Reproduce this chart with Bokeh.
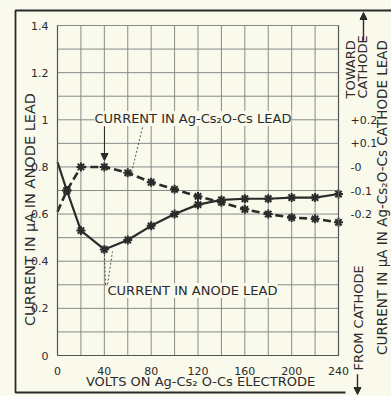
import math
from bokeh.plotting import figure
from bokeh.models import (Range1d, LinearAxis, FixedTicker, Label, Arrow, NormalHead)
from bokeh.embed import file_html
from bokeh.resources import INLINE

# ---- data ----
volts = [0, 8, 20, 40, 60, 80, 100, 120, 140, 160, 180, 200, 220, 240]
anode_current = [0.82, 0.70, 0.53, 0.45, 0.49, 0.55, 0.60, 0.64, 0.66, 0.665, 0.665, 0.67, 0.67, 0.685]
cathode_current = [-0.19, -0.10, 0.00, 0.00, -0.025, -0.065, -0.095, -0.125, -0.15, -0.18, -0.20, -0.215, -0.22, -0.235]
x_ticks = [0, 40, 80, 120, 160, 200, 240]
x_grid = [0, 20, 40, 60, 80, 100, 120, 140, 160, 180, 200, 220, 240]
y_ticks = [0, 0.2, 0.4, 0.6, 0.8, 1.0, 1.2, 1.4]
y_grid = [0, 0.1, 0.2, 0.3, 0.4, 0.5, 0.6, 0.7, 0.8, 0.9, 1.0, 1.1, 1.2, 1.3, 1.4]
right_ticks = [-0.2, -0.1, 0.0, 0.1, 0.2]
right_labels = ["-0.2", "-0.1", "-0", "+0.1", "+0.2"]
cathode_offset = 0.8   # right-axis zero sits at 0.8 on the left axis

BG = "#f9f9ec"
INK = "#2b2b2b"
GRID = "#8a8a8a"
FONT = "DejaVu Sans"

# ---- layout: the frame fills the canvas; the chart box is placed by the ranges ----
W, H = 391, 396
PX0, PX1 = 57, 338      # pixel columns of 0 V and 240 V
PY0, PY1 = 355, 25      # pixel rows of 0 and 1.4
XMAX, YMAX = x_grid[-1], y_grid[-1]
kx = XMAX / (PX1 - PX0)
ky = YMAX / (PY0 - PY1)
x_lo, x_hi = -PX0 * kx, XMAX + (W - PX1) * kx
y_lo, y_hi = -(H - PY0) * ky, YMAX + PY1 * ky

def dx(px):
    return (px - PX0) * kx

def dy(py):
    return (PY0 - py) * ky

p = figure(width=W, height=H, x_range=Range1d(x_lo, x_hi), y_range=Range1d(y_lo, y_hi),
           output_backend="svg", toolbar_location=None,
           min_border_left=0, min_border_right=0, min_border_top=0, min_border_bottom=0,
           background_fill_color=BG, border_fill_color=BG)
p.extra_y_ranges = {"cath": Range1d(y_lo - cathode_offset, y_hi - cathode_offset)}
p.outline_line_color = None
p.grid.visible = False

# outer frame of the figure (open on the right)
p.line(x=[dx(W + 5), dx(15), dx(15), dx(345)], y=[dy(10), dy(10), dy(392), dy(392)],
       line_color=INK, line_width=1.8)

# grid of the chart box
n_x, n_y = len(x_grid), len(y_grid)
p.segment(x0=x_grid, y0=[y_grid[0]] * n_x, x1=x_grid, y1=[y_grid[-1]] * n_x,
          line_color=GRID, line_width=1)
p.segment(x0=[x_grid[0]] * n_y, y0=y_grid, x1=[x_grid[-1]] * n_y, y1=y_grid,
          line_color=GRID, line_width=1)

def style_axis(ax):
    ax.axis_line_color = "#555555"
    ax.axis_line_width = 1.2
    ax.major_tick_line_color = None
    ax.minor_tick_line_color = None
    ax.major_label_text_font = FONT
    ax.major_label_text_font_size = "11px"
    ax.major_label_text_color = INK
    ax.major_label_standoff = 3

xa = p.xaxis[0]
xa.ticker = FixedTicker(ticks=x_ticks)
xa.fixed_location = 0
xa.bounds = (x_grid[0], x_grid[-1])
style_axis(xa)
xa.major_label_standoff = 5

ya = p.yaxis[0]
ya.ticker = FixedTicker(ticks=y_ticks)
ya.fixed_location = 0
ya.bounds = (y_grid[0], y_grid[-1])
style_axis(ya)

rax = LinearAxis(y_range_name="cath", ticker=FixedTicker(ticks=right_ticks),
                 major_label_overrides=dict(zip(right_ticks, right_labels)),
                 fixed_location=x_grid[-1],
                 bounds=(y_grid[0] - cathode_offset, y_grid[-1] - cathode_offset))
style_axis(rax)
rax.major_label_standoff = 6
p.add_layout(rax, "right")

# ---- curves ----
p.line(volts, anode_current, line_color=INK, line_width=2.2)
p.scatter(volts[1:], anode_current[1:], marker="asterisk", size=9, line_color=INK, line_width=2)
p.line(volts, cathode_current, y_range_name="cath", line_color=INK, line_width=2.6, line_dash="8 4")
p.scatter(volts[1:], cathode_current[1:], y_range_name="cath", marker="asterisk", size=9,
          line_color=INK, line_width=2)

# ---- texts ----
def label(px, py, text, angle=0.0, align="left", size="13px", bg=None):
    p.add_layout(Label(x=dx(px), y=dy(py), text=text, angle=angle, text_align=align,
                       text_baseline="middle", text_font=FONT, text_font_size=size,
                       text_color=INK, background_fill_color=bg))

def line(px0, py0, px1, py1, head=False, w=1.0, dash="solid"):
    p.add_layout(Arrow(x_start=dx(px0), y_start=dy(py0), x_end=dx(px1), y_end=dy(py1),
                       line_color=INK, line_width=w, line_dash=dash,
                       end=NormalHead(size=7, fill_color=INK, line_color=INK) if head else None))

def stroke(px0, py0, px1, py1, w=1.2):
    p.line(x=[dx(px0), dx(px1)], y=[dy(py0), dy(py1)], line_color=INK, line_width=w)

label(94, 118, "CURRENT IN Ag-Cs\u2082O-Cs LEAD", bg=BG)
label(107, 290, "CURRENT IN ANODE LEAD", bg=BG)
line(104, 126, 104, 160, head=True)
line(142, 127, 131, 172, w=0.8, dash="2 2")
line(105, 284, 104, 253, w=0.8, dash="2 2")
line(107, 284, 112, 251, w=0.8, dash="2 2")

label(29, 209, "CURRENT IN \u03bcA IN ANODE LEAD", angle=math.pi / 2, align="center", size="14.5px")
label(200, 381, "VOLTS ON Ag-Cs\u2082 O-Cs ELECTRODE", align="center", size="13px")
label(381, 197, "CURRENT IN \u03bcA IN Ag-Cs\u2082O-Cs CATHODE LEAD", angle=math.pi / 2,
      align="center", size="13.5px")
label(350, 98, "TOWARD", angle=math.pi / 2, size="13px")
label(362, 98, "CATHODE", angle=math.pi / 2, size="13px")
label(358, 370, "FROM CATHODE", angle=math.pi / 2, size="13px")
stroke(363, 40, 363, 16)
line(363, 40, 363, 12, head=True, w=1.2)
stroke(357, 374, 357, 390)
line(357, 374, 357, 394, head=True, w=1.2)

open("out.html", "w").write(file_html(p, INLINE))
